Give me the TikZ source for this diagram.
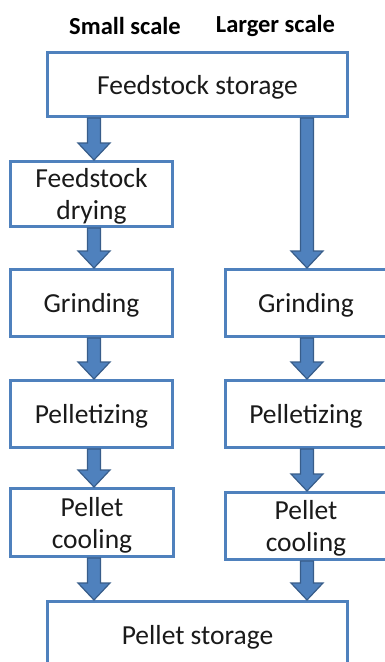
\documentclass[tikz,border=0pt]{standalone}
\usepackage{fontspec}
\setmainfont{Carlito}
\usetikzlibrary{calc}
\definecolor{boxblue}{HTML}{4F81BD}
\definecolor{arrowfill}{HTML}{4F81BD}
\definecolor{arrowdark}{HTML}{385D8A}
\definecolor{txt}{HTML}{1A1A1A}
\tikzset{
  procbox/.style={draw=boxblue, line width=3pt, fill=white, rectangle, align=center,
    font=\fontsize{27.5}{32}\selectfont, text=txt, inner sep=0pt, text depth=0pt},
  title/.style={font=\fontsize{24.5}{28}\selectfont\bfseries, text=black, inner sep=0pt},
  fat/.style={fill=arrowfill, draw=arrowdark, line width=1.2pt, line join=miter,
    to path={let \p1=(\tikztostart), \p2=(\tikztotarget) in
      (\x1-6.5pt,\y1) -- (\x1-6.5pt,\y2+17pt) -- (\x1-16pt,\y2+17pt) -- (\x1,\y2)
      -- (\x1+16pt,\y2+17pt) -- (\x1+6.5pt,\y2+17pt) -- (\x1+6.5pt,\y1) -- cycle}}
}
\begin{document}
\begin{tikzpicture}[x=1pt,y=1pt]
\useasboundingbox (0,0) rectangle (385,-662);
\clip (0,0) rectangle (385,-662);
\node[title] (ts) at (125,-26) {Small scale};
\node[title] (tl) at (275.5,-26) {Larger scale};
\coordinate (xl) at (94,0);
\coordinate (xr) at (307,0);
\node[procbox, minimum width=300pt, minimum height=64pt] (store) at (197.5,-84.5) {Feedstock storage};
\node[procbox, minimum width=162pt, minimum height=65pt] (dry) at (91.5,-194) {Feedstock\\drying};
\node[procbox, minimum width=162pt, minimum height=67pt] (gl) at (91.5,-303) {Grinding};
\node[procbox, minimum width=162pt, minimum height=67pt] (pl) at (91.5,-414) {Pelletizing};
\node[procbox, minimum width=163pt, minimum height=68pt] (cl) at (92,-522.5) {Pellet\\cooling};
\node[procbox, minimum width=162pt, minimum height=67pt] (gr) at (306,-303) {Grinding};
\node[procbox, minimum width=162pt, minimum height=67pt] (pr) at (306,-414) {Pelletizing};
\node[procbox, minimum width=162pt, minimum height=67pt] (cr) at (306,-526) {Pellet\\cooling};
\node[procbox, minimum width=300pt, minimum height=67pt] (ps) at (197.5,-635) {Pellet storage};
\draw[fat] (store.south -| xl) to (dry.north -| xl);
\draw[fat] (dry.south -| xl) to (gl.north -| xl);
\draw[fat] (gl.south -| xl) to (pl.north -| xl);
\draw[fat] (pl.south -| xl) to (cl.north -| xl);
\draw[fat] (cl.south -| xl) to (ps.north -| xl);
\draw[fat] (store.south -| xr) to (gr.north -| xr);
\draw[fat] (gr.south -| xr) to (pr.north -| xr);
\draw[fat] (pr.south -| xr) to (cr.north -| xr);
\draw[fat] (cr.south -| xr) to (ps.north -| xr);
\end{tikzpicture}
\end{document}
